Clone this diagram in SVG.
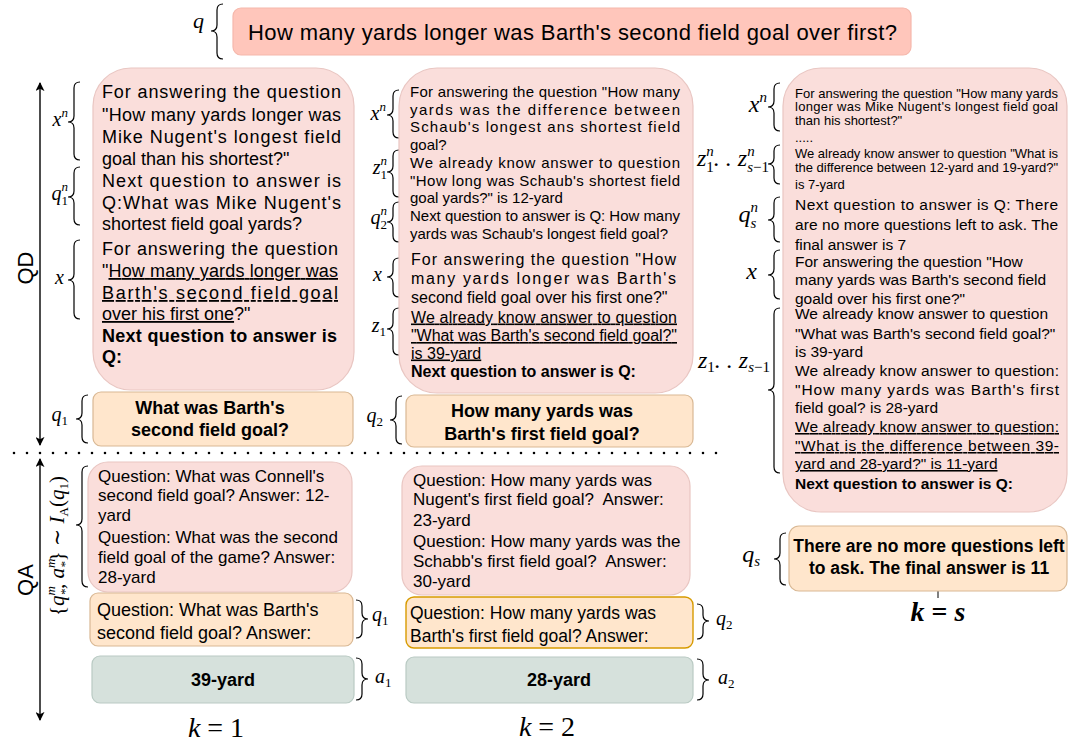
<svg xmlns="http://www.w3.org/2000/svg" width="1070" height="747" viewBox="0 0 1070 747">
<defs>
<style>
.t{font-family:"Liberation Sans",Arial,sans-serif;fill:#000}
.b{font-weight:bold}
.u{text-decoration:underline}
.m{font-family:"Liberation Serif","DejaVu Serif",serif;font-style:italic;fill:#000}
.n{font-style:normal}
.br{fill:none;stroke:#000;stroke-width:1.2}
.pink{fill:#FADEDB;stroke:#E9C6C2;stroke-width:1.2}
.top{fill:#FFC6BB;stroke:#F5B8AC;stroke-width:1.2}
.org{fill:#FFE6CC;stroke:#D9B894;stroke-width:1.2}
.org2{fill:#FFE6CC;stroke:#D79B00;stroke-width:1.4}
.grn{fill:#D6E1DC;stroke:#B9CAC3;stroke-width:1.2}
.ax{stroke:#000;stroke-width:1.4;fill:none}
</style>
<marker id="ah" viewBox="0 0 10 10" refX="9" refY="5" markerWidth="9" markerHeight="9" markerUnits="userSpaceOnUse" orient="auto-start-reverse">
<path d="M0,0 L10,5 L0,10 L2.5,5 Z" fill="#000"/>
</marker>
</defs>
<rect width="1070" height="747" fill="#fff"/>

<!-- top question -->
<g id="q-top">
<rect class="top" x="233" y="8" width="678" height="47" rx="8"/>
<text class="t" x="248" y="40" font-size="22" textLength="649">How many yards longer was Barth's second field goal over first?</text>
<text class="m" x="204" y="28" font-size="22" text-anchor="end">q</text>
</g>

<!-- axes / separators -->
<g id="connectors">
<line class="ax" x1="40" y1="445" x2="40" y2="83" marker-end="url(#ah)" marker-start="url(#ah)"/>
<line class="ax" x1="40" y1="459" x2="40" y2="720" marker-end="url(#ah)" marker-start="url(#ah)"/>
<line x1="14" y1="453" x2="728" y2="453" stroke="#000" stroke-width="2.6" stroke-linecap="round" stroke-dasharray="0 13"/>
<line x1="938" y1="591" x2="938" y2="598" stroke="#000" stroke-width="1"/>
</g>
<g id="axis-labels">
<text class="t" font-size="22" text-anchor="middle" transform="translate(33,268) rotate(-90)">QD</text>
<text class="t" font-size="22" text-anchor="middle" transform="translate(33,580) rotate(-90)">QA</text>
<text class="m" font-size="21" text-anchor="middle" transform="translate(64,546) rotate(-90)"><tspan class="n">{</tspan>q<tspan font-size="13" dy="-9">m</tspan><tspan font-size="13" dx="-9.5" dy="14">*</tspan><tspan dy="-5">, a</tspan><tspan font-size="13" dy="-9">m</tspan><tspan font-size="13" dx="-9.5" dy="14">*</tspan><tspan class="n" dy="-5">} ∼ </tspan><tspan>I</tspan><tspan font-size="13" class="n" dy="4">A</tspan><tspan class="n" dy="-4">(</tspan><tspan>q</tspan><tspan font-size="13" class="n" dy="4">1</tspan><tspan class="n" dy="-4">)</tspan></text>
</g>

<!-- braces -->
<g id="braces" class="br">
<path d="M223 4 q-6 0 -6 6 V25 q0 6 -6 6 q6 0 6 6 V53 q0 6 6 6"/>
<path d="M80 82 q-6 0 -6 6 V116 q0 6 -6 6 q6 0 6 6 V154 q0 6 6 6"/>
<path d="M80 167 q-6 0 -6 6 V191 q0 6 -6 6 q6 0 6 6 V219 q0 6 6 6"/>
<path d="M80 240 q-6 0 -6 6 V274 q0 6 -6 6 q6 0 6 6 V313 q0 6 6 6"/>
<path d="M88 395 q-6 0 -6 6 V413 q0 6 -6 6 q6 0 6 6 V437 q0 6 6 6"/>
<path d="M88 466 q-6 0 -6 6 V519 q0 6 -6 6 q6 0 6 6 V581 q0 6 6 6"/>
<path d="M356 600 q6 0 6 6 V613 q0 6 6 6 q-6 0 -6 6 V632 q0 6 -6 6"/>
<path d="M356 658 q6 0 6 6 V673 q0 6 6 6 q-6 0 -6 6 V694 q0 6 -6 6"/>
<path d="M399 90 q-6 0 -6 6 V109 q0 6 -6 6 q6 0 6 6 V132 q0 6 6 6"/>
<path d="M399 150 q-6 0 -6 6 V166 q0 6 -6 6 q6 0 6 6 V191 q0 6 6 6"/>
<path d="M399 202 q-6 0 -6 6 V216 q0 6 -6 6 q6 0 6 6 V236 q0 6 6 6"/>
<path d="M399 258 q-6 0 -6 6 V271 q0 6 -6 6 q6 0 6 6 V291 q0 6 6 6"/>
<path d="M399 308 q-6 0 -6 6 V323 q0 6 -6 6 q6 0 6 6 V349 q0 6 6 6"/>
<path d="M402 396 q-6 0 -6 6 V414 q0 6 -6 6 q6 0 6 6 V438 q0 6 6 6"/>
<path d="M697 604 q6 0 6 6 V615 q0 6 6 6 q-6 0 -6 6 V633 q0 6 -6 6"/>
<path d="M697 659 q6 0 6 6 V674 q0 6 6 6 q-6 0 -6 6 V694 q0 6 -6 6"/>
<path d="M780 83 q-6 0 -6 6 V101 q0 6 -6 6 q6 0 6 6 V125 q0 6 6 6"/>
<path d="M780 145 q-6 0 -6 6 V158 q0 6 -6 6 q6 0 6 6 V178 q0 6 6 6"/>
<path d="M780 197 q-6 0 -6 6 V214 q0 6 -6 6 q6 0 6 6 V236 q0 6 6 6"/>
<path d="M780 250 q-6 0 -6 6 V269 q0 6 -6 6 q6 0 6 6 V293 q0 6 6 6"/>
<path d="M780 308 q-6 0 -6 6 V384 q0 6 -6 6 q6 0 6 6 V467 q0 6 6 6"/>
<path d="M786 533 q-6 0 -6 6 V553 q0 6 -6 6 q6 0 6 6 V579 q0 6 6 6"/>
</g>

<!-- math labels -->
<g id="labels" class="m" font-size="20">
<text x="68" y="126" text-anchor="end">x<tspan font-size="13" dy="-9">n</tspan></text>
<text x="68" y="200" text-anchor="end">q<tspan font-size="13" dy="-9">n</tspan><tspan font-size="13" class="n" dx="-6.5" dy="14">1</tspan></text>
<text x="64" y="284" text-anchor="end">x</text>
<text x="68" y="421" text-anchor="end">q<tspan font-size="13" class="n" dy="4">1</tspan></text>
<text x="372" y="621">q<tspan font-size="13" class="n" dy="4">1</tspan></text>
<text x="375" y="683">a<tspan font-size="13" class="n" dy="4">1</tspan></text>
<text x="386" y="120" text-anchor="end">x<tspan font-size="13" dy="-9">n</tspan></text>
<text x="387" y="174" text-anchor="end">z<tspan font-size="13" dy="-9">n</tspan><tspan font-size="13" class="n" dx="-6.5" dy="14">1</tspan></text>
<text x="387" y="224" text-anchor="end">q<tspan font-size="13" dy="-9">n</tspan><tspan font-size="13" class="n" dx="-6.5" dy="14">2</tspan></text>
<text x="382" y="281" text-anchor="end">x</text>
<text x="386" y="332" text-anchor="end">z<tspan font-size="13" class="n" dy="4">1</tspan></text>
<text x="383" y="422" text-anchor="end">q<tspan font-size="13" class="n" dy="4">2</tspan></text>
<text x="716" y="625">q<tspan font-size="13" class="n" dy="4">2</tspan></text>
<text x="718" y="684">a<tspan font-size="13" class="n" dy="4">2</tspan></text>
<text x="767" y="112" font-size="24" text-anchor="end">x<tspan font-size="15" dy="-10">n</tspan></text>
<text x="769" y="166" font-size="24" text-anchor="end">z<tspan font-size="15" dy="-10">n</tspan><tspan font-size="15" class="n" dx="-7.5" dy="16">1</tspan><tspan dy="-6">. . z</tspan><tspan font-size="15" dy="-10">n</tspan><tspan font-size="15" dx="-7.5" dy="16">s<tspan class="n">−1</tspan></tspan></text>
<text x="758" y="222" font-size="24" text-anchor="end">q<tspan font-size="15" dy="-10">n</tspan><tspan font-size="15" dx="-7.5" dy="16">s</tspan></text>
<text x="757" y="279" font-size="24" text-anchor="end">x</text>
<text x="770" y="368" font-size="24" text-anchor="end">z<tspan font-size="15" class="n" dy="4">1</tspan><tspan dy="-4">. . z</tspan><tspan font-size="15" dy="4">s<tspan class="n">−1</tspan></tspan></text>
<text x="760" y="562" font-size="24" text-anchor="end">q<tspan font-size="15" dy="4">s</tspan></text>
<text x="216" y="737" font-size="28" text-anchor="middle">k <tspan class="n">= 1</tspan></text>
<text x="547" y="736" font-size="28" text-anchor="middle">k <tspan class="n">= 2</tspan></text>
<text x="938" y="621" font-size="28" font-weight="bold" text-anchor="middle">k <tspan class="n">=</tspan> s</text>
</g>

<!-- column 1 QD -->
<g id="qd-prompt-1">
<rect class="pink" x="93" y="68" width="261" height="322" rx="38"/>
<g class="t" font-size="18">
<text x="102" y="98" textLength="239">For answering the question</text>
<text x="102" y="120.5" textLength="239">"How many yards longer was</text>
<text x="102" y="142.5" textLength="239">Mike Nugent's longest field</text>
<text x="102" y="164.5">goal than his shortest?"</text>
<text x="102" y="186.5" textLength="239">Next question to answer is</text>
<text x="102" y="208.5" textLength="239">Q:What was Mike Nugent's</text>
<text x="102" y="230">shortest field goal yards?</text>
<text x="102" y="255" textLength="236">For answering the question</text>
<text x="102" y="277" textLength="236">"<tspan class="u">How many yards longer was</tspan></text>
<text x="102" y="299" textLength="236" class="u">Barth's second field goal</text>
<text x="102" y="320"><tspan class="u">over his first one</tspan>?"</text>
<text x="102" y="342" class="b" textLength="235">Next question to answer is</text>
<text x="102" y="363" class="b">Q:</text>
</g>
</g>
<g id="q1-box">
<rect class="org" x="93" y="392" width="260" height="54" rx="8"/>
<text class="t b" x="210" y="414" font-size="18" text-anchor="middle">What was Barth's</text>
<text class="t b" x="210" y="436" font-size="18" text-anchor="middle">second field goal?</text>
</g>

<!-- column 2 QD -->
<g id="qd-prompt-2">
<rect class="pink" x="399" y="68" width="294" height="325" rx="38"/>
<g class="t" font-size="15">
<text x="410" y="97" textLength="270">For answering the question "How many</text>
<text x="410" y="114.5" textLength="270">yards was the difference between</text>
<text x="410" y="132" textLength="270">Schaub's longest ans shortest field</text>
<text x="410" y="149.5">goal?</text>
<text x="410" y="168" textLength="270">We already know answer to question</text>
<text x="410" y="185.5" textLength="270">"How long was Schaub's shortest field</text>
<text x="410" y="203">goal yards?" is 12-yard</text>
<text x="410" y="221" textLength="270">Next question to answer is Q: How many</text>
<text x="410" y="238.5">yards was Schaub's longest field goal?</text>
</g>
<g class="t" font-size="16">
<text x="411" y="264.5" textLength="265">For answering the question "How</text>
<text x="411" y="284" textLength="265">many yards longer was Barth's</text>
<text x="411" y="302.5">second field goal over his first one?"</text>
<text x="411" y="322.5" textLength="266" class="u">We already know answer to question</text>
<text x="411" y="341" textLength="266" class="u">"What was Barth's second field goal?"</text>
<text x="411" y="358.5" class="u">is 39-yard</text>
<text x="411" y="377" class="b">Next question to answer is Q:</text>
</g>
</g>
<g id="q2-box">
<rect class="org" x="406" y="395" width="287" height="52" rx="8"/>
<text class="t b" x="542" y="417" font-size="18" text-anchor="middle">How many yards was</text>
<text class="t b" x="542" y="440" font-size="18" text-anchor="middle">Barth's first field goal?</text>
</g>

<!-- column 3 QD -->
<g id="qd-prompt-s">
<rect class="pink" x="783" y="68" width="284" height="444" rx="38"/>
<g class="t" font-size="13">
<text x="795" y="98" textLength="263">For answering the question "How many yards</text>
<text x="795" y="111" textLength="263">longer was Mike Nugent's longest field goal</text>
<text x="795" y="125">than his shortest?"</text>
<text x="795" y="142">.....</text>
<text x="795" y="158" textLength="263">We already know answer to question "What is</text>
<text x="795" y="172" textLength="263">the difference between 12-yard and 19-yard?"</text>
<text x="795" y="189">is 7-yard</text>
</g>
<g class="t" font-size="15.5">
<text x="795" y="210" textLength="263">Next question to answer is Q: There</text>
<text x="795" y="230" textLength="263">are no more questions left to ask. The</text>
<text x="795" y="250">final answer is 7</text>
<text x="795" y="267">For answering the question "How</text>
<text x="795" y="284.5">many yards was Barth's second field</text>
<text x="795" y="304">goald over his first one?"</text>
<text x="795" y="319">We already know answer to question</text>
<text x="795" y="339">"What was Barth's second field goal?"</text>
<text x="795" y="357">is 39-yard</text>
<text x="795" y="376" textLength="264">We already know answer to question:</text>
<text x="795" y="395" textLength="264">"How many yards was Barth's first</text>
<text x="795" y="413">field goal? is 28-yard</text>
<text x="795" y="432" textLength="264" class="u">We already know answer to question:</text>
<text x="795" y="451" textLength="264" class="u">"What is the difference between 39-</text>
<text x="795" y="469" class="u">yard and 28-yard?" is 11-yard</text>
<text x="795" y="489" class="b">Next question to answer is Q:</text>
</g>
</g>
<g id="qs-box">
<rect class="org" x="789" y="526" width="278" height="65" rx="10"/>
<text class="t b" x="929" y="552" font-size="17.5" text-anchor="middle">There are no more questions left</text>
<text class="t b" x="929" y="574" font-size="17.5" text-anchor="middle">to ask. The final answer is 11</text>
</g>

<!-- column 1 QA -->
<g id="qa-examples-1">
<rect class="pink" x="88" y="462" width="264" height="130" rx="20"/>
<g class="t" font-size="17">
<text x="98" y="482">Question: What was Connell's</text>
<text x="98" y="501">second field goal? Answer: 12-</text>
<text x="98" y="521">yard</text>
<text x="98" y="543">Question: What was the second</text>
<text x="98" y="563">field goal of the game? Answer:</text>
<text x="98" y="583">28-yard</text>
</g>
</g>
<g id="qa-q1">
<rect class="org" x="90" y="593" width="263" height="53" rx="8"/>
<text class="t" x="97" y="616" font-size="18">Question: What was Barth's</text>
<text class="t" x="97" y="638.5" font-size="18">second field goal? Answer:</text>
</g>
<g id="a1">
<rect class="grn" x="92" y="656" width="262" height="47" rx="8"/>
<text class="t b" x="223" y="686" font-size="18" text-anchor="middle">39-yard</text>
</g>

<!-- column 2 QA -->
<g id="qa-examples-2">
<rect class="pink" x="402" y="466" width="288" height="129" rx="20"/>
<g class="t" font-size="17" xml:space="preserve">
<text x="413" y="486">Question: How many yards was</text>
<text x="413" y="505">Nugent's first field goal?&#160; Answer:</text>
<text x="413" y="526">23-yard</text>
<text x="413" y="547">Question: How many yards was the</text>
<text x="413" y="567">Schabb's first field goal?&#160; Answer:</text>
<text x="413" y="587">30-yard</text>
</g>
</g>
<g id="qa-q2">
<rect class="org2" x="406" y="597" width="287" height="51" rx="8"/>
<text class="t" x="410" y="619" font-size="17.5">Question: How many yards was</text>
<text class="t" x="410" y="642" font-size="17.5">Barth's first field goal? Answer:</text>
</g>
<g id="a2">
<rect class="grn" x="406" y="657" width="287" height="46" rx="8"/>
<text class="t b" x="559" y="686" font-size="18" text-anchor="middle">28-yard</text>
</g>
</svg>
